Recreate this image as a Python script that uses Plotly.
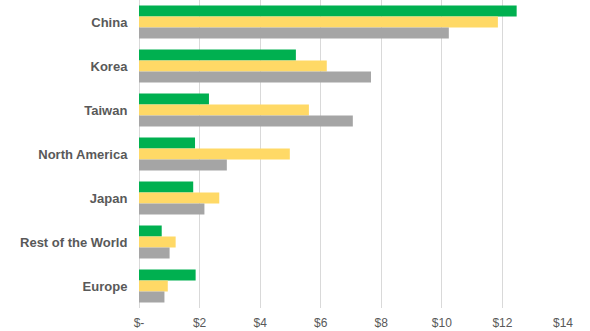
import plotly.graph_objects as go

regions = ["China", "Korea", "Taiwan", "North America", "Japan", "Rest of the World", "Europe"]
series_green = [12.47, 5.18, 2.31, 1.85, 1.79, 0.75, 1.87]
series_yellow = [11.85, 6.20, 5.61, 4.98, 2.65, 1.21, 0.95]
series_gray = [10.23, 7.66, 7.06, 2.90, 2.16, 1.01, 0.84]
tick_values = [0, 2, 4, 6, 8, 10, 12, 14]
tick_labels = ["$-", "$2", "$4", "$6", "$8", "$10", "$12", "$14"]

colors = ["#00B050", "#FFD966", "#A5A5A5"]

fig = go.Figure()
for vals, col in zip([series_green, series_yellow, series_gray], colors):
    fig.add_trace(go.Bar(
        y=regions, x=vals, orientation="h",
        marker=dict(color=col, line=dict(width=0)),
        showlegend=False,
    ))

fig.update_layout(
    width=590, height=331,
    margin=dict(l=139, r=27, t=0, b=23),
    paper_bgcolor="white", plot_bgcolor="white",
    barmode="group", bargap=0.25, bargroupgap=0,
    font=dict(family="Liberation Sans, Arial, sans-serif", color="#595959"),
)
fig.update_xaxes(
    range=[0, 14], tickvals=tick_values, ticktext=tick_labels,
    showgrid=True, gridcolor="#D9D9D9", gridwidth=1,
    zeroline=True, zerolinecolor="#D9D9D9", zerolinewidth=1,
    showline=False, ticks="outside", ticklen=4, tickcolor="rgba(0,0,0,0)",
    tickfont=dict(size=12, color="#595959"),
)
fig.update_yaxes(
    autorange="reversed", showgrid=False, zeroline=False, showline=False,
    ticks="outside", ticklen=8, tickcolor="rgba(0,0,0,0)",
    tickfont=dict(size=13, color="#595959", weight="bold"),
)

fig.write_html("out.html")
